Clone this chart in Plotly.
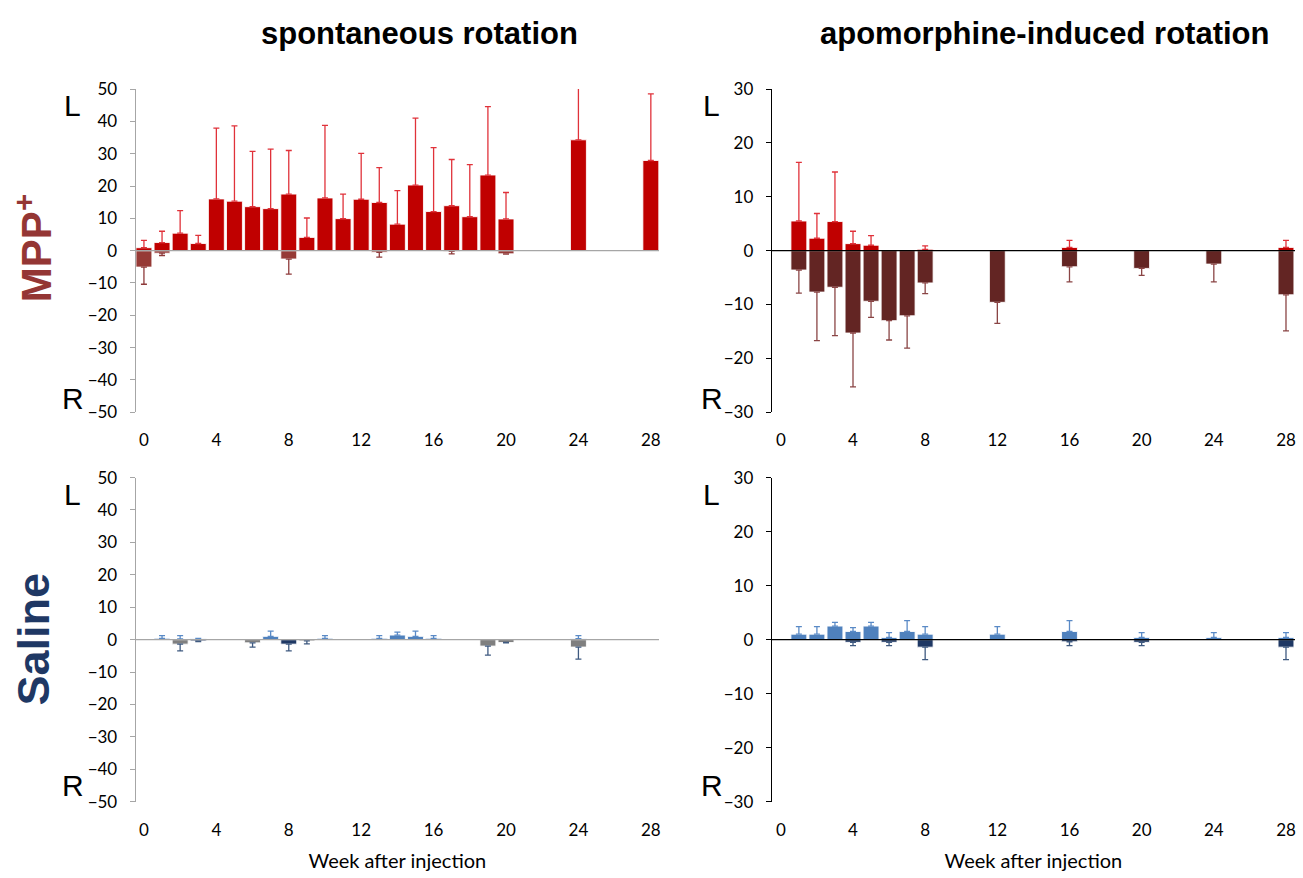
import plotly.graph_objects as go

# ---------------- data ----------------
# MPP+ spontaneous rotation (weeks 0..20, 24, 28)
sp_mpp_weeks = list(range(0, 21)) + [24, 28]
sp_mpp_left = [0.9, 2.5, 5.4, 2.2, 16.0, 15.3, 13.6, 13.0, 17.5, 4.1, 16.3, 9.9,
               15.9, 14.9, 8.2, 20.3, 12.1, 13.9, 10.5, 23.4, 9.8, 34.3, 27.9]
sp_mpp_left_err = [2.3, 3.5, 7.0, 2.5, 21.9, 23.3, 17.1, 18.4, 13.5, 6.0, 22.5, 7.6,
                   14.2, 10.8, 10.4, 20.7, 19.8, 14.3, 16.1, 21.2, 8.2, 17.7, 20.6]
sp_mpp_right = [-5.1, -0.8, None, None, None, None, None, None, -2.6, None, None, None,
                None, -0.5, None, None, None, -0.2, None, None, -1.0, None, None]
sp_mpp_right_err = [5.3, 0.7, None, None, None, None, None, None, 4.7, None, None, None,
                    None, 1.5, None, None, None, 0.8, None, None, 0.1, None, None]

# MPP+ apomorphine-induced rotation
ap_weeks = [1, 2, 3, 4, 5, 6, 7, 8, 12, 16, 20, 24, 28]
ap_mpp_left = [5.5, 2.3, 5.4, 1.3, 1.0, None, None, 0.25, None, 0.6, None, None, 0.6]
ap_mpp_left_err = [10.9, 4.6, 9.2, 2.3, 1.8, None, None, 0.65, None, 1.3, None, None, 1.3]
ap_mpp_right = [-3.6, -7.7, -6.8, -15.3, -9.4, -13.0, -12.1, -6.0, -9.6, -3.0, -3.3, -2.5, -8.2]
ap_mpp_right_err = [4.3, 9.0, 9.0, 10.0, 3.0, 3.6, 6.0, 2.0, 3.9, 2.8, 1.3, 3.3, 6.7]

# Saline spontaneous rotation
sp_sal_weeks = [1, 2, 3, 6, 7, 8, 9, 10, 13, 14, 15, 16, 19, 20, 24]
sp_sal_left = [0.4, 0.2, 0.3, None, 1.0, None, None, 0.4, 0.4, 1.4, 1.0, 0.4, None, None, 0.3]
sp_sal_left_err = [0.8, 1.0, 0.1, None, 1.6, None, None, 0.8, 0.8, 0.9, 1.6, 0.8, None, None, 0.9]
sp_sal_right_gray = [None, -1.4, None, -1.0, None, None, -0.4, None, None, None, None, None, -2.0, -0.9, -2.3]
sp_sal_right_gray_err = [None, 2.1, None, 1.3, None, None, 0.9, None, None, None, None, None, 2.8, 0.1, 3.7]
sp_sal_right_navy = [None, None, -0.4, None, None, -1.4, None, None, None, None, None, None, None, None, None]
sp_sal_right_navy_err = [None, None, 0.2, None, None, 2.1, None, None, None, None, None, None, None, None, None]

# Saline apomorphine-induced rotation
ap_sal_left = [1.0, 1.0, 2.5, 1.5, 2.5, 0.4, 1.5, 1.0, 1.0, 1.5, 0.4, 0.4, 0.4]
ap_sal_left_err = [1.4, 1.4, 0.7, 0.7, 0.7, 0.9, 2.0, 1.4, 1.4, 2.0, 0.9, 0.9, 0.9]
ap_sal_right = [None, None, None, -0.5, None, -0.5, None, -1.4, None, -0.4, -0.5, None, -1.4]
ap_sal_right_err = [None, None, None, 0.6, None, 0.6, None, 2.3, None, 0.7, 0.6, None, 2.3]

week_ticks = [0, 4, 8, 12, 16, 20, 24, 28]
sp_yticks = [-50, -40, -30, -20, -10, 0, 10, 20, 30, 40, 50]
ap_yticks = [-30, -20, -10, 0, 10, 20, 30]

titles = ["spontaneous rotation", "apomorphine-induced rotation"]
row_labels = ["MPP<sup>+</sup>", "Saline"]

# ---------------- styles ----------------
RED = "#C00000"
RED_ERR = "#E0323A"
DARKRED_L = "#963A36"
DARKRED_R = "#632523"
DARK_ERR_L = "#8E3A3A"
DARK_ERR_R = "#8A4545"
BLUE = "#4F81BD"
BLUE_ERR = "#5A8AC6"
NAVY = "#1F3864"
NAVY_ERR = "#3F5A80"
GRAY = "#7F7F7F"
TICKFONT = dict(family="Lato, Noto Sans, sans-serif", size=17, color="#000000")

W, H = 1303, 878


def px_x(p):
    return p / W


def px_y(p):
    return 1 - p / H


fig = go.Figure()


def add_bars(xa, ya, weeks, vals, errs, color, errcolor, up):
    arr = [e if (e is not None and up) else (0 if e is not None else None) for e in errs]
    arrm = [e if (e is not None and not up) else (0 if e is not None else None) for e in errs]
    fig.add_trace(go.Bar(
        x=weeks, y=vals, xaxis=xa, yaxis=ya, width=0.88,
        marker=dict(color=color, line=dict(color="rgba(255,255,255,0.85)", width=1)),
        error_y=dict(type="data", symmetric=False, array=arr, arrayminus=arrm,
                     color=errcolor, thickness=1.3, width=3),
        showlegend=False, hoverinfo="skip",
    ))


# top-left
add_bars("x", "y", sp_mpp_weeks, sp_mpp_right, sp_mpp_right_err, DARKRED_L, DARK_ERR_L, False)
add_bars("x", "y", sp_mpp_weeks, sp_mpp_left, sp_mpp_left_err, RED, RED_ERR, True)
# top-right
add_bars("x2", "y2", ap_weeks, ap_mpp_right, ap_mpp_right_err, DARKRED_R, DARK_ERR_R, False)
add_bars("x2", "y2", ap_weeks, ap_mpp_left, ap_mpp_left_err, RED, RED_ERR, True)
# bottom-left
add_bars("x3", "y3", sp_sal_weeks, sp_sal_right_gray, sp_sal_right_gray_err, GRAY, NAVY_ERR, False)
add_bars("x3", "y3", sp_sal_weeks, sp_sal_right_navy, sp_sal_right_navy_err, NAVY, NAVY_ERR, False)
add_bars("x3", "y3", sp_sal_weeks, sp_sal_left, sp_sal_left_err, BLUE, BLUE_ERR, True)
# bottom-right
add_bars("x4", "y4", ap_weeks, ap_sal_right, ap_sal_right_err, NAVY, NAVY_ERR, False)
add_bars("x4", "y4", ap_weeks, ap_sal_left, ap_sal_left_err, BLUE, BLUE_ERR, True)

xdom_l = [px_x(136), px_x(660)]
xdom_r = [px_x(773), px_x(1297)]
ydom_t = [px_y(411), px_y(80)]
ydom_b = [px_y(810), px_y(478)]


def xaxis(dom, rng, anchor, title=None):
    d = dict(domain=dom, range=rng, anchor=anchor, tickmode="array", tickvals=week_ticks,
             showgrid=False, zeroline=False, showline=False, ticks="",
             ticklabelstandoff=16, tickfont=TICKFONT, fixedrange=True)
    if title:
        d["title"] = dict(text=title, font=dict(family="Lato, Noto Sans, sans-serif", size=20,
                                                 color="#000"), standoff=15)
    return d


def yaxis(dom, rng, ticks, anchor, linecolor):
    return dict(domain=dom, range=rng, anchor=anchor, tickmode="array", tickvals=ticks,
                showgrid=False, zeroline=False, showline=True, linecolor=linecolor,
                linewidth=1.3, ticks="outside", ticklen=5, tickcolor=linecolor,
                tickwidth=1.3, ticklabelstandoff=9, tickfont=TICKFONT, fixedrange=True)


fig.update_layout(
    width=W, height=H, margin=dict(l=0, r=0, t=0, b=0),
    paper_bgcolor="white", plot_bgcolor="white", barmode="overlay",
    xaxis=xaxis(xdom_l, [-0.45, 28.45], "y"),
    yaxis=yaxis(ydom_t, [-50, 50], sp_yticks, "x", "#A6A6A6"),
    xaxis2=xaxis(xdom_r, [-0.5, 28.5], "y2"),
    yaxis2=yaxis(ydom_t, [-30, 30], ap_yticks, "x2", "#000000"),
    xaxis3=xaxis(xdom_l, [-0.45, 28.45], "y3", "Week after injection"),
    yaxis3=yaxis(ydom_b, [-50, 50], sp_yticks, "x3", "#A6A6A6"),
    xaxis4=xaxis(xdom_r, [-0.5, 28.5], "y4", "Week after injection"),
    yaxis4=yaxis(ydom_b, [-30, 30], ap_yticks, "x4", "#000000"),
)

# zero lines on top of bars
for xr, yr, col in [("x", "y", "#A6A6A6"), ("x2", "y2", "#000000"),
                    ("x3", "y3", "#A6A6A6"), ("x4", "y4", "#000000")]:
    fig.add_shape(type="line", xref=xr + " domain", yref=yr, x0=0, x1=1, y0=0, y1=0,
                  line=dict(color=col, width=1.3), layer="above")

# column titles
for t, cx in zip(titles, [420, 1047]):
    fig.add_annotation(text="<b>" + t + "</b>", x=px_x(cx), y=px_y(23), xref="paper",
                       yref="paper", showarrow=False, xanchor="center", yanchor="middle",
                       font=dict(family="Liberation Sans, Arial, sans-serif", size=31,
                                 color="#000"))

# row labels
for lab, cy, col, sz in zip(row_labels, [243, 643], ["#943634", "#1F3864"], [42, 45]):
    fig.add_annotation(text="<b>" + lab + "</b>", x=px_x(34), y=px_y(cy), xref="paper",
                       yref="paper", showarrow=False, textangle=-90,
                       xanchor="center", yanchor="middle",
                       font=dict(family="Liberation Sans, Arial, sans-serif", size=sz, color=col))

# L / R markers
for lx in [73, 713]:
    for ly, txt in [(97, "L"), (397, "R"), (495, "L"), (793, "R")]:
        fig.add_annotation(text=txt, x=px_x(lx), y=px_y(ly), xref="paper", yref="paper",
                           showarrow=False, xanchor="center", yanchor="middle",
                           font=dict(family="Liberation Sans, Arial, sans-serif", size=30,
                                     color="#000"))

fig.write_html("out.html")
